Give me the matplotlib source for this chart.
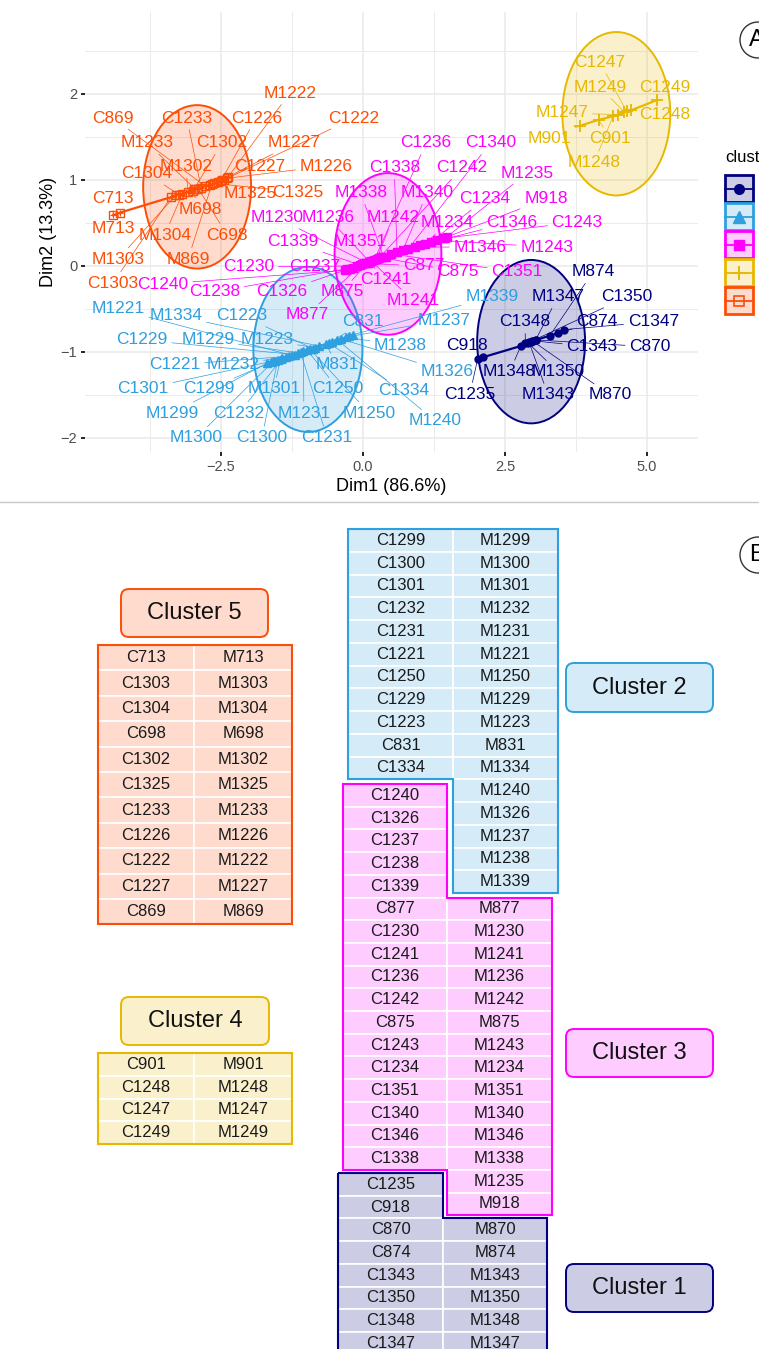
import numpy as np
import matplotlib.pyplot as plt
from matplotlib.colors import to_rgba
from matplotlib.patches import Ellipse, Rectangle, FancyBboxPatch, Circle, Polygon

plt.rcParams['font.family'] = ['Liberation Sans', 'DejaVu Sans']

colors = ['#000080', '#2E9FDF', '#FF00FF', '#E7B800', '#FC4E07']

# ---- scatter data (Dim1, Dim2) per cluster ----
c1_names = ['C1235', 'C918', 'M1348', 'C1348', 'M1350', 'C1350', 'M1343', 'C1343',
            'M870', 'C870', 'M1347', 'M874', 'C874', 'C1347']
c1_x = [2.02, 2.12, 2.78, 2.86, 2.90, 2.95, 2.92, 3.00, 2.98, 3.05, 3.04, 3.29, 3.43, 3.54]
c1_y = [-1.08, -1.06, -0.93, -0.90, -0.89, -0.88, -0.88, -0.87, -0.87, -0.86, -0.86, -0.81, -0.78, -0.74]

c2_names = ['M1299', 'C1299', 'C1301', 'M1300', 'C1300', 'M1301', 'C1232', 'M1232', 'C1221',
            'M1221', 'C1229', 'M1229', 'C1231', 'M1231', 'C1250', 'M1250', 'C1223', 'M1223',
            'M1334', 'C1334', 'C831', 'M831', 'M1240', 'M1326', 'M1238', 'M1237', 'M1339']
c2_x = [-1.69, -1.62, -1.55, -1.58, -1.50, -1.45, -1.42, -1.36, -1.30, -1.25, -1.20, -1.15, -1.10,
        -1.05, -0.98, -0.93, -0.88, -0.84, -0.78, -0.60, -0.55, -0.65, -0.45, -0.38, -0.30, -0.24, -0.18]
c2_y = [-1.13, -1.12, -1.10, -1.11, -1.09, -1.08, -1.07, -1.06, -1.05, -1.04, -1.03, -1.01, -1.00,
        -0.99, -0.98, -0.97, -0.96, -0.95, -0.93, -0.90, -0.88, -0.91, -0.86, -0.85, -0.83, -0.82, -0.80]

c3_names = ['C1240', 'C1326', 'C1237', 'C1238', 'C1230', 'C1339', 'M877', 'C877', 'M1230',
            'M875', 'C1241', 'M1236', 'M1241', 'C1236', 'M1242', 'C1242', 'C875', 'M1338',
            'M1351', 'C1351', 'C1338', 'M1340', 'C1340', 'M1346', 'C1346', 'M1234', 'C1234',
            'M1243', 'C1243', 'M918', 'M1235']
c3_x = [-0.32, -0.28, -0.22, -0.18, -0.10, -0.05, -0.02, 0.02, 0.06, 0.08, 0.10, 0.12, 0.14,
        0.20, 0.24, 0.28, 0.32, 0.36, 0.40, 0.50, 0.60, 0.70, 0.80, 0.92, 1.00, 1.10, 1.20,
        1.30, 1.40, 1.45, 1.48]
c3_y = [-0.05, -0.04, -0.03, -0.02, 0.00, 0.01, 0.02, 0.03, 0.04, 0.04, 0.05, 0.05, 0.06,
        0.07, 0.08, 0.09, 0.10, 0.11, 0.11, 0.14, 0.16, 0.18, 0.20, 0.22, 0.24, 0.26, 0.28,
        0.30, 0.32, 0.33, 0.34]

c4_names = ['M901', 'C901', 'M1248', 'M1247', 'M1249', 'C1247', 'C1248', 'C1249']
c4_x = [3.82, 4.15, 4.40, 4.49, 4.60, 4.64, 4.72, 5.18]
c4_y = [1.63, 1.70, 1.74, 1.76, 1.79, 1.80, 1.81, 1.93]

c5_names = ['C713', 'M713', 'C1303', 'M1303', 'C1304', 'M1304', 'M1302', 'M698', 'C1302',
            'M1233', 'C698', 'C1233', 'C869', 'M1325', 'M869', 'C1325', 'C1227', 'C1226',
            'M1227', 'C1222', 'M1226', 'M1222']
c5_x = [-4.40, -4.28, -3.38, -3.30, -3.24, -3.18, -3.08, -3.00, -2.98, -2.95, -2.90, -2.85,
        -2.78, -2.70, -2.66, -2.62, -2.55, -2.50, -2.48, -2.45, -2.40, -2.38]
c5_y = [0.59, 0.62, 0.80, 0.82, 0.83, 0.84, 0.86, 0.87, 0.89, 0.89, 0.90, 0.91,
        0.93, 0.94, 0.95, 0.96, 0.98, 0.99, 1.00, 1.00, 1.02, 1.03]

# ellipse centres / radius per cluster
ell_cx = [2.96, -0.97, 0.44, 4.46, -2.92]
ell_cy = [-0.88, -0.97, 0.14, 1.77, 0.92]
ell_r = [0.95, 0.96, 0.94, 0.95, 0.95]

# repelled label positions (layout)
label_pos = {
    'M874': (4.05, -0.07), 'M1347': (3.43, -0.36), 'C1350': (4.65, -0.36), 'C1348': (2.85, -0.65),
    'C874': (4.12, -0.65), 'C1347': (5.11, -0.65), 'C918': (1.83, -0.92), 'C1343': (4.03, -0.94),
    'C870': (5.05, -0.94), 'M1348': (2.58, -1.23), 'M1350': (3.43, -1.23), 'C1235': (1.88, -1.49),
    'M1343': (3.26, -1.50), 'M870': (4.35, -1.50),
    'M1221': (-4.31, -0.50), 'M1334': (-3.29, -0.58), 'C1223': (-2.13, -0.58), 'C1229': (-3.89, -0.86),
    'M1229': (-2.73, -0.86), 'M1223': (-1.69, -0.86), 'C1221': (-3.31, -1.15), 'M1232': (-2.29, -1.15),
    'M831': (-0.46, -1.15), 'C1301': (-3.87, -1.43), 'C1299': (-2.71, -1.43), 'M1301': (-1.57, -1.43),
    'C1250': (-0.44, -1.43), 'M1299': (-3.35, -1.71), 'C1232': (-2.18, -1.71), 'M1231': (-1.04, -1.71),
    'M1250': (0.11, -1.71), 'M1300': (-2.94, -2.00), 'C1300': (-1.78, -2.00), 'C1231': (-0.63, -2.00),
    'C831': (0.00, -0.65), 'M1238': (0.66, -0.92), 'M1237': (1.43, -0.63), 'M1339': (2.27, -0.36),
    'M1326': (1.48, -1.23), 'C1334': (0.72, -1.45), 'M1240': (1.27, -1.80),
    'C1236': (1.11, 1.43), 'C1340': (2.24, 1.43), 'C1338': (0.55, 1.14), 'C1242': (1.74, 1.14),
    'M1235': (2.89, 1.08), 'M1338': (-0.04, 0.85), 'M1340': (1.13, 0.85), 'C1234': (2.15, 0.78),
    'M918': (3.22, 0.78), 'M1230': (-1.51, 0.56), 'M1236': (-0.62, 0.56), 'M1242': (0.53, 0.56),
    'M1234': (1.48, 0.50), 'C1346': (2.62, 0.51), 'C1243': (3.77, 0.51), 'C1339': (-1.23, 0.28),
    'M1351': (-0.04, 0.28), 'M1346': (2.06, 0.22), 'M1243': (3.24, 0.22), 'C1230': (-2.01, -0.01),
    'C1237': (-0.85, -0.01), 'C877': (1.07, 0.00), 'C875': (1.67, -0.07), 'C1351': (2.71, -0.07),
    'C1241': (0.40, -0.16), 'C1238': (-2.61, -0.30), 'C1326': (-1.43, -0.30), 'M875': (-0.37, -0.30),
    'C1240': (-3.52, -0.21), 'M1241': (0.88, -0.40), 'M877': (-0.99, -0.57),
    'C1247': (4.17, 2.37), 'M1249': (4.17, 2.08), 'C1249': (5.32, 2.08), 'M1247': (3.50, 1.78),
    'C1248': (5.32, 1.76), 'M901': (3.29, 1.48), 'C901': (4.35, 1.48), 'M1248': (4.07, 1.20),
    'M1222': (-1.29, 2.01), 'C869': (-4.40, 1.72), 'C1233': (-3.10, 1.72), 'C1226': (-1.88, 1.72),
    'C1222': (-0.16, 1.72), 'M1233': (-3.80, 1.43), 'C1302': (-2.48, 1.43), 'M1227': (-1.21, 1.43),
    'M1302': (-3.12, 1.16), 'C1227': (-1.81, 1.16), 'M1226': (-0.65, 1.16), 'C1304': (-3.80, 1.07),
    'M1325': (-1.99, 0.84), 'C1325': (-1.14, 0.86), 'C713': (-4.40, 0.78), 'M698': (-2.87, 0.66),
    'M713': (-4.40, 0.43), 'M1304': (-3.49, 0.36), 'C698': (-2.39, 0.36), 'M1303': (-4.31, 0.08),
    'M869': (-3.08, 0.08), 'C1303': (-4.40, -0.20),
}

# ---- table data ----
t1_left = ['C1235', 'C918', 'C870', 'C874', 'C1343', 'C1350', 'C1348', 'C1347']
t1_right = ['M870', 'M874', 'M1343', 'M1350', 'M1348', 'M1347']
t2_left = ['C1299', 'C1300', 'C1301', 'C1232', 'C1231', 'C1221', 'C1250', 'C1229', 'C1223', 'C831', 'C1334']
t2_right = ['M1299', 'M1300', 'M1301', 'M1232', 'M1231', 'M1221', 'M1250', 'M1229', 'M1223', 'M831',
            'M1334', 'M1240', 'M1326', 'M1237', 'M1238', 'M1339']
t3_left = ['C1240', 'C1326', 'C1237', 'C1238', 'C1339', 'C877', 'C1230', 'C1241', 'C1236', 'C1242',
           'C875', 'C1243', 'C1234', 'C1351', 'C1340', 'C1346', 'C1338']
t3_right = ['M877', 'M1230', 'M1241', 'M1236', 'M1242', 'M875', 'M1243', 'M1234', 'M1351', 'M1340',
            'M1346', 'M1338', 'M1235', 'M918']
t4_left = ['C901', 'C1248', 'C1247', 'C1249']
t4_right = ['M901', 'M1248', 'M1247', 'M1249']
t5_left = ['C713', 'C1303', 'C1304', 'C698', 'C1302', 'C1325', 'C1233', 'C1226', 'C1222', 'C1227', 'C869']
t5_right = ['M713', 'M1303', 'M1304', 'M698', 'M1302', 'M1325', 'M1233', 'M1226', 'M1222', 'M1227', 'M869']

names = [c1_names, c2_names, c3_names, c4_names, c5_names]
xs = [c1_x, c2_x, c3_x, c4_x, c5_x]
ys = [c1_y, c2_y, c3_y, c4_y, c5_y]

W, H = 759, 1349
fig = plt.figure(figsize=(W / 100, H / 100), dpi=100)

# ---------------- panel A ----------------
ax = fig.add_axes([85 / W, 1 - 452 / H, (698 - 85) / W, (452 - 12) / H])
ax.set_xlim(-4.894, 5.898)
ax.set_ylim(-2.163, 2.953)
for s in ax.spines.values():
    s.set_visible(False)
ax.set_xticks([-2.5, 0, 2.5, 5.0])
ax.set_yticks([-2, -1, 0, 1, 2])
ax.set_xticks([-3.75, -1.25, 1.25, 3.75], minor=True)
ax.set_yticks([-1.5, -0.5, 0.5, 1.5, 2.5], minor=True)
ax.grid(which='major', color='#EBEBEB', lw=1.2, zorder=0)
ax.grid(which='minor', color='#EBEBEB', lw=0.7, zorder=0)
ax.set_axisbelow(True)
ax.tick_params(which='major', length=3, width=1.2, color='black', labelsize=10.5,
               labelcolor='#4D4D4D', pad=2.5)
ax.tick_params(which='minor', length=0)
ax.set_xlabel('Dim1 (86.6%)', fontsize=13, labelpad=3)
ax.set_ylabel('Dim2 (13.3%)', fontsize=13, labelpad=3)

for k in range(5):
    ax.add_patch(Ellipse((ell_cx[k], ell_cy[k]), 2 * ell_r[k], 2 * ell_r[k],
                         fc=to_rgba(colors[k], 0.2), ec=colors[k], lw=1.4, zorder=1))

for k in range(5):
    x = np.array(xs[k])
    y = np.array(ys[k])
    o = np.argsort(x)
    ax.plot(x[o], y[o], color=colors[k], lw=1.6, zorder=3)
    if k == 0:
        ax.plot(x, y, 'o', color=colors[k], ms=5, zorder=4)
    elif k == 1:
        ax.plot(x, y, '^', color=colors[k], ms=6, zorder=4)
    elif k == 2:
        ax.plot(x, y, 's', color=colors[k], ms=5.5, zorder=4)
    elif k == 3:
        ax.plot(x, y, '+', color=colors[k], ms=9, mew=1.3, zorder=4)
    else:
        ax.plot(x, y, 's', mfc='none', mec=colors[k], ms=6, mew=1, zorder=4)
        ax.plot(x, y, '+', color=colors[k], ms=4, mew=0.8, zorder=4)
    for n, px, py in zip(names[k], xs[k], ys[k]):
        lx, ly = label_pos[n]
        ax.annotate(n, xy=(px, py), xytext=(lx, ly), color=colors[k], fontsize=12.5,
                    ha='center', va='center', zorder=5,
                    arrowprops=dict(arrowstyle='-', color=colors[k], lw=0.5,
                                    shrinkA=1, shrinkB=0))

# ---------------- overlay in pixel coordinates ----------------
ov = fig.add_axes([0, 0, 1, 1])
ov.set_xlim(0, W)
ov.set_ylim(H, 0)
ov.axis('off')

# legend (cut by the right edge)
ov.text(725, 157, 'cluster', fontsize=12, ha='left', va='center')
leg_marks = [dict(marker='o', ms=7), dict(marker='^', ms=8), dict(marker='s', ms=7),
             dict(marker='+', ms=10, mew=1.4), dict(marker='s', ms=7, mfc='none', mew=1.2)]
for i in range(5):
    y0 = 175 + i * 28
    ov.add_patch(Rectangle((725, y0), 28, 27, fc=to_rgba(colors[i], 0.2), ec=colors[i], lw=2))
    ov.plot([725, 753], [y0 + 13.5, y0 + 13.5], color=colors[i], lw=1.3)
    ov.plot([739], [y0 + 13.5], color=colors[i], **leg_marks[i])

# panel tags
for cy, tag in [(40, 'A'), (555, 'B')]:
    ov.add_patch(Circle((758, cy), 18, fc='white', ec='#333333', lw=1))
    ov.text(757, cy, tag, fontsize=17, ha='center', va='center')

# separator
ov.plot([0, W], [502, 502], color='#C8C8C8', lw=1)


def draw_table(left, right, x0, xm, x1, y0, rh, off, k):
    fc = to_rgba(colors[k], 0.2)
    for i, n in enumerate(left):
        ov.add_patch(Rectangle((x0, y0 + i * rh), xm - x0, rh, fc=fc, ec='white', lw=1.2))
        ov.text((x0 + xm) / 2, y0 + (i + 0.5) * rh, n, fontsize=12, ha='center', va='center',
                color='#1A1A1A')
    for i, n in enumerate(right):
        ov.add_patch(Rectangle((xm, y0 + (off + i) * rh), x1 - xm, rh, fc=fc, ec='white', lw=1.2))
        ov.text((xm + x1) / 2, y0 + (off + i + 0.5) * rh, n, fontsize=12, ha='center',
                va='center', color='#1A1A1A')
    yl1 = y0 + len(left) * rh
    yr0 = y0 + off * rh
    yr1 = yr0 + len(right) * rh
    pts = [(x0, y0), (xm, y0), (xm, yr0), (x1, yr0), (x1, yr1), (xm, yr1), (xm, yl1), (x0, yl1)]
    ov.add_patch(Polygon(pts, closed=True, fc='none', ec=colors[k], lw=1.5, zorder=3))


def draw_box(x, y, w, h, text, k):
    ov.add_patch(FancyBboxPatch((x, y), w, h, boxstyle='round,pad=0,rounding_size=8',
                                fc=to_rgba(colors[k], 0.2), ec=colors[k], lw=1.4))
    ov.text(x + w / 2, y + h / 2, text, fontsize=17, ha='center', va='center', color='#111111')


draw_table(t5_left, t5_right, 98, 194, 292, 645, 25.4, 0, 4)
draw_table(t4_left, t4_right, 98, 194, 292, 1053, 22.8, 0, 3)
draw_table(t2_left, t2_right, 348, 453, 558, 529, 22.75, 0, 1)
draw_table(t3_left, t3_right, 343, 447, 552, 784, 22.7, 5, 2)
draw_table(t1_left, t1_right, 338, 443, 547, 1173, 22.7, 2, 0)

draw_box(121, 589, 147, 48, 'Cluster 5', 4)
draw_box(121, 997, 148, 48, 'Cluster 4', 3)
draw_box(566, 663, 147, 49, 'Cluster 2', 1)
draw_box(566, 1029, 147, 48, 'Cluster 3', 2)
draw_box(566, 1264, 147, 48, 'Cluster 1', 0)

fig.savefig('out.png', dpi=100)
